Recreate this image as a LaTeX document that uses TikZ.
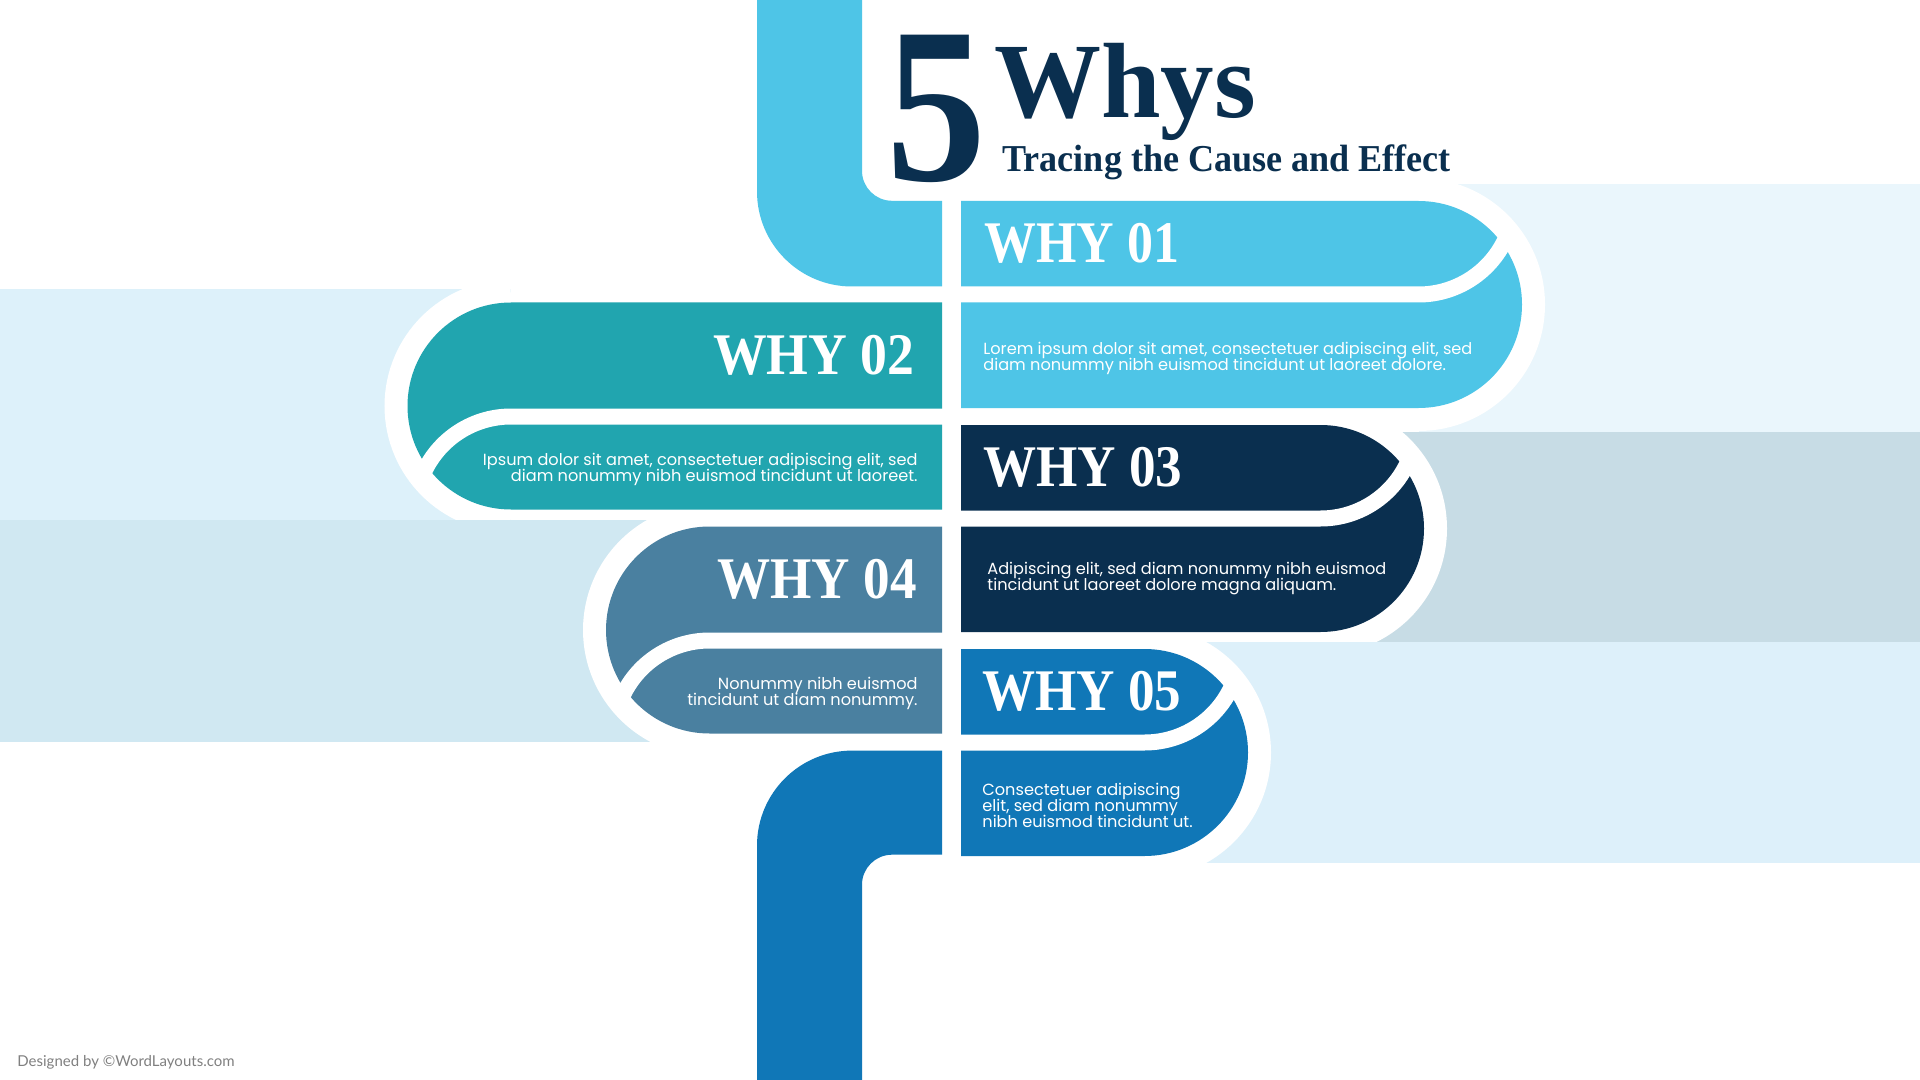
\documentclass[tikz,border=0pt]{standalone}
\usepackage{fontspec}
\setmainfont{Liberation Serif}
\newfontfamily\popfont{Poppins}
\newfontfamily\latofont{Lato}
\newcommand\tightlines{\setlength{\lineskiplimit}{-20pt}\setlength{\lineskip}{0pt}}
\usetikzlibrary{positioning}
\definecolor{whyA}{HTML}{4EC5E7}
\definecolor{whyB}{HTML}{21A5AF}
\definecolor{whyC}{HTML}{0A2F4F}
\definecolor{whyD}{HTML}{4A80A0}
\definecolor{whyE}{HTML}{1077B7}
\definecolor{bandA}{HTML}{EAF6FC}
\definecolor{bandB}{HTML}{DDF1FA}
\definecolor{bandC}{HTML}{C7DCE5}
\definecolor{bandD}{HTML}{D0E8F2}
\definecolor{bandE}{HTML}{DDF0FA}

\begin{document}
\begin{tikzpicture}[x=0.5pt,y=-0.5pt,
  every node/.style={inner sep=0pt},
  ringline/.style={white,line width=23pt},
  gapline/.style={white,line width=8pt},
  whylabel/.style={text=white,font=\bfseries\fontsize{29.5}{30}\selectfont},
  bodytext/.style={text=white,font=\popfont\fontsize{8.08}{8}\selectfont\tightlines}
]
\useasboundingbox (0,0) rectangle (1920,1080);
\fill[white] (0,0) rectangle (1920,1080);

% the bands behind the first three blobs
\fill[bandA] (1418.5,183.7) rectangle (1920,432);
\fill[bandB] (0,289) rectangle (511,520.4);
\fill[bandC] (1320.5,432) rectangle (1920,641.6);

% white rims of blobs 1-3
\foreach \t/\cx in {201/1418.5,425/1320.5}
  \draw[ringline] (\cx,\t) arc[start angle=-90,end angle=90,radius=103.5];
\draw[ringline] (511,302.5) arc[start angle=270,end angle=90,radius=103.5];

% the lower bands, then rims of blobs 4-5
\fill[bandD] (0,520.4) rectangle (700,742);
\fill[bandE] (1144.5,641.6) rectangle (1920,863);
\draw[ringline] (709.5,526.5) arc[start angle=270,end angle=90,radius=103.5];
\draw[ringline] (1144.5,649) arc[start angle=-90,end angle=90,radius=103.5];

% the pipes
\fill[whyA] (757,0) -- (757,191.5) arc[start angle=180,end angle=90,radius=95]
  -- (942,286.5) -- (942,200.8) -- (892,200.8)
  arc[start angle=90,end angle=180,radius=30] -- (862,0) -- cycle;
\fill[whyE] (757,1080) -- (757,845.6) arc[start angle=180,end angle=270,radius=95]
  -- (942,750.6) -- (942,854.7) -- (892,854.7)
  arc[start angle=270,end angle=180,radius=30] -- (862,1080) -- cycle;

% the blobs on the right
\foreach \t/\cx/\col in {201/1418.5/whyA,425/1320.5/whyC,649/1144.5/whyE}{
  \fill[\col] (961,\t) -- (\cx,\t) arc[start angle=-90,end angle=90,radius=103.5]
    -- (961,{\t+207}) -- cycle;
  \draw[gapline] (955,{\t+93.5}) -- (\cx,{\t+93.5}) arc[start angle=90,end angle=20,radius=96];
}
% the blobs on the left
\foreach \t/\cx/\col in {302.5/511/whyB,526.5/709.5/whyD}{
  \fill[\col] (942,\t) -- (\cx,\t) arc[start angle=270,end angle=90,radius=103.5]
    -- (942,{\t+207}) -- cycle;
  \draw[gapline] (948,{\t+114}) -- (\cx,{\t+114}) arc[start angle=270,end angle=200,radius=96];
}

% title
\node[anchor=base west,text=whyC,font=\bfseries\fontsize{111}{111}\selectfont] (five) at (886,181) {\scalebox{0.9}[1]{5}};
\node[anchor=base west,text=whyC,font=\bfseries\fontsize{53.5}{54}\selectfont] (whys) at (994,118) {Whys};
\node[anchor=base west,text=whyC,font=\bfseries\fontsize{19}{19}\selectfont] (tracing) at (1002,172) {\scalebox{0.95}[1]{Tracing the Cause and Effect}};

% the labels
\node[whylabel,anchor=base west] (why1) at (984,263) {\scalebox{0.88}[1]{WHY 01}};
\node[whylabel,anchor=base east] (why2) at (915,374.5) {\scalebox{0.91}[1]{WHY 02}};
\node[whylabel,anchor=base west] (why3) at (983,486.5) {\scalebox{0.9}[1]{WHY 03}};
\node[whylabel,anchor=base east] (why4) at (917,598) {\scalebox{0.9}[1]{WHY 04}};
\node[whylabel,anchor=base west] (why5) at (982,710.5) {\scalebox{0.9}[1]{WHY 05}};

% the texts
\node[bodytext,anchor=west,align=left] (txt1) at (983,358) {Lorem ipsum dolor sit amet, consectetuer adipiscing elit, sed\\diam nonummy nibh euismod tincidunt ut laoreet dolore.};
\node[bodytext,anchor=east,align=right] (txt2) at (918,469) {Ipsum dolor sit amet, consectetuer adipiscing elit, sed\\diam nonummy nibh euismod tincidunt ut laoreet.};
\node[bodytext,anchor=west,align=left] (txt3) at (987,579) {Adipiscing elit, sed diam nonummy nibh euismod\\tincidunt ut laoreet dolore magna aliquam.};
\node[bodytext,anchor=east,align=right] (txt4) at (918,693) {Nonummy nibh euismod\\tincidunt ut diam nonummy.};
\node[bodytext,anchor=west,align=left] (txt5) at (982,805) {Consectetuer adipiscing\\elit, sed diam nonummy\\nibh euismod tincidunt ut.};

\node[anchor=west,text=black!50,font=\latofont\fontsize{7.5}{8}\selectfont] (credit) at (17,1062) {Designed by \textcopyright WordLayouts.com};
\end{tikzpicture}
\end{document}
